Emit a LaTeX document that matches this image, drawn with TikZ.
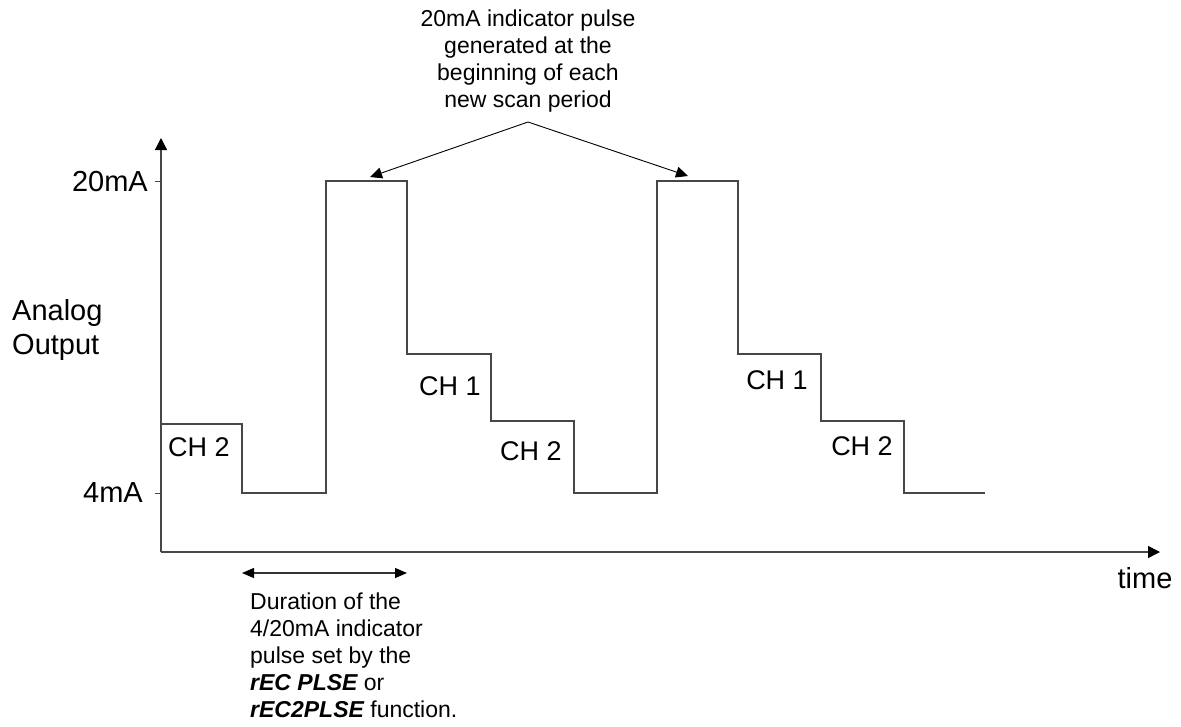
\documentclass[tikz,border=0pt]{standalone}
\usepackage{fontspec}
\setmainfont{Liberation Sans}
\usetikzlibrary{arrows.meta}
\begin{document}
\begin{tikzpicture}[x=1pt,y=-1pt,
  wave/.style={draw=black!72,line width=1.3pt},
  axis/.style={draw=black!72,line width=1.3pt,-{Triangle[length=12pt,width=12pt,color=black]}},
  tick/.style={draw=black!72,line width=1pt},
  pointer/.style={draw=black,line width=0.9pt,-{Triangle[length=12pt,width=11pt]}},
  dur/.style={draw=black!80,line width=1.2pt,{Triangle[length=12pt,width=10pt,color=black]}-{Triangle[length=12pt,width=10pt,color=black]}},
  biglbl/.style={inner sep=0pt,font=\fontsize{29}{34}\selectfont},
  chlbl/.style={inner sep=0pt,font=\fontsize{27}{32}\selectfont},
  note/.style={inner sep=0pt,font=\fontsize{23}{27}\selectfont}
]
\useasboundingbox (0,0) rectangle (1181,726);
% axes
\coordinate (O) at (161,552);
\coordinate (ytip) at (161,138);
\coordinate (xtip) at (1160,552);
\draw[axis] (O) -- (ytip);
\draw[axis] (O) -- (xtip);
\coordinate (t20a) at (155,181); \coordinate (t20b) at (161,181);
\coordinate (t4a) at (155,493); \coordinate (t4b) at (161,493);
\draw[tick] (t20a) -- (t20b);
\draw[tick] (t4a) -- (t4b);
% waveform
\draw[wave] (161,424) -- (242,424) -- (242,493) -- (326,493) -- (326,181) -- (407,181)
  -- (407,354) -- (491,354) -- (491,421) -- (574,421) -- (574,493) -- (657,493)
  -- (657,181) -- (738,181) -- (738,354) -- (821,354) -- (821,421) -- (904,421)
  -- (904,493) -- (985,493);
% labels
\node[biglbl,anchor=east] (l20) at (148,182) {20mA};
\node[biglbl,anchor=east] (l4) at (143,493) {4mA};
\node[biglbl,anchor=west,align=left] (ao) at (12,330) {Analog\\Output};
\node[biglbl] (time) at (1145,578) {time};
\node[chlbl] (c2a) at (199,447) {CH 2};
\node[chlbl] (c1a) at (450,386) {CH 1};
\node[chlbl] (c2b) at (531,451) {CH 2};
\node[chlbl] (c1b) at (777,380) {CH 1};
\node[chlbl] (c2c) at (862,446) {CH 2};
% top annotation
\node[note,align=center] (topnote) at (528,61) {20mA indicator pulse\\generated at the\\beginning of each\\new scan period};
\coordinate (apex) at (528,122);
\coordinate (tipL) at (370,177);
\coordinate (tipR) at (688,176);
\draw[pointer] (apex) -- (tipL);
\draw[pointer] (apex) -- (tipR);
% duration
\coordinate (dL) at (242,573);
\coordinate (dR) at (407,573);
\draw[dur] (dL) -- (dR);
\node[note,anchor=north west,align=left] (durnote) at (250,593)
  {Duration of the\\4/20mA indicator\\pulse set by the\\{\bfseries\itshape rEC PLSE} or\\{\bfseries\itshape rEC2PLSE} function.};
\end{tikzpicture}
\end{document}
